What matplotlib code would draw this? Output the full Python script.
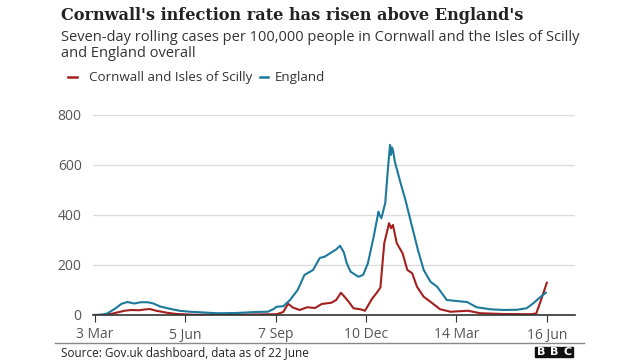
import pandas as pd
import matplotlib
matplotlib.use("Agg")
import matplotlib.pyplot as plt
from matplotlib.patches import Rectangle

# England: seven-day rolling rate per 100,000
eng_dates = ["2020-03-03", "2020-03-10", "2020-03-16", "2020-03-24", "2020-03-31", "2020-04-06",
             "2020-04-13", "2020-04-20", "2020-04-27", "2020-05-03", "2020-05-10", "2020-05-20",
             "2020-05-30", "2020-06-10", "2020-06-20", "2020-07-08", "2020-07-28", "2020-08-18",
             "2020-08-30", "2020-09-05", "2020-09-08", "2020-09-15", "2020-09-22", "2020-09-30",
             "2020-10-07", "2020-10-16", "2020-10-23", "2020-10-28", "2020-11-04", "2020-11-09",
             "2020-11-13", "2020-11-17", "2020-11-20", "2020-11-24", "2020-12-02", "2020-12-07",
             "2020-12-12", "2020-12-18", "2020-12-23", "2020-12-24", "2020-12-26", "2020-12-30",
             "2021-01-02", "2021-01-04", "2021-01-05", "2021-01-06", "2021-01-07", "2021-01-09",
             "2021-01-15", "2021-01-20", "2021-01-26", "2021-02-02", "2021-02-08", "2021-02-15",
             "2021-02-22", "2021-03-04", "2021-03-14", "2021-03-25", "2021-04-04", "2021-04-18",
             "2021-05-02", "2021-05-16", "2021-05-26", "2021-06-02", "2021-06-09", "2021-06-15"]
eng_values = [0, 1, 6, 25, 45, 52, 46, 51, 51, 46, 34, 25,
              17, 13, 11, 7, 8, 12, 13, 24, 33, 35, 60, 100,
              160, 180, 228, 233, 250, 262, 277, 250, 207, 173, 153, 160,
              207, 313, 413, 400, 387, 447, 593, 680, 640, 670, 660, 613,
              527, 460, 367, 260, 180, 133, 113, 60, 56, 52, 31, 23,
              20, 21, 27, 47, 71, 89]

# Cornwall and Isles of Scilly
cornwall_dates = ["2020-03-03", "2020-03-15", "2020-03-22", "2020-04-03", "2020-04-10", "2020-04-18",
                  "2020-04-24", "2020-04-29", "2020-05-06", "2020-05-17", "2020-05-27", "2020-06-15",
                  "2020-07-15", "2020-08-15", "2020-09-08", "2020-09-15", "2020-09-20", "2020-09-25",
                  "2020-10-02", "2020-10-10", "2020-10-18", "2020-10-25", "2020-11-04", "2020-11-09",
                  "2020-11-14", "2020-11-19", "2020-11-22", "2020-11-27", "2020-12-04", "2020-12-09",
                  "2020-12-16", "2020-12-22", "2020-12-25", "2020-12-29", "2021-01-03", "2021-01-05",
                  "2021-01-07", "2021-01-11", "2021-01-17", "2021-01-22", "2021-01-27", "2021-02-01",
                  "2021-02-08", "2021-02-15", "2021-02-25", "2021-03-08", "2021-03-26", "2021-04-08",
                  "2021-05-02", "2021-05-30", "2021-06-05", "2021-06-10", "2021-06-16"]
cornwall_values = [0, 1, 6, 17, 20, 19, 22, 24, 17, 9, 4, 1,
                   1, 2, 3, 12, 45, 30, 20, 31, 28, 44, 49, 60,
                   89, 67, 53, 27, 23, 17, 63, 93, 110, 287, 367, 347,
                   360, 287, 247, 180, 167, 113, 73, 53, 23, 13, 17, 7,
                   4, 3, 6, 60, 129]

tick_dates = ["2020-03-03", "2020-06-05", "2020-09-07", "2020-12-10", "2021-03-14", "2021-06-16"]
tick_labels = ["3 Mar", "5 Jun", "7 Sep", "10 Dec", "14 Mar", "16 Jun"]
y_ticks = [0, 200, 400, 600, 800]

red = "#a3201f"
blue = "#1d7a9b"
plt.rcParams["font.family"] = ["Open Sans", "DejaVu Sans"]

fig = plt.figure(figsize=(6.4, 3.6), dpi=100)
ax = fig.add_axes([0.145, 0.125, 0.753, 0.556])

ax.plot(pd.to_datetime(cornwall_dates), cornwall_values, color=red, linewidth=1.5)
ax.plot(pd.to_datetime(eng_dates), eng_values, color=blue, linewidth=1.5)

ax.set_ylim(0, 800)
ax.set_xlim(pd.Timestamp("2020-03-01"), pd.Timestamp("2021-07-15"))
ax.set_yticks(y_ticks)
ax.set_xticks(pd.to_datetime(tick_dates))
ax.set_xticklabels(tick_labels)
ax.grid(axis="y", color="#dddddd", linewidth=1)
ax.set_axisbelow(True)
for s in ["top", "right", "left"]:
    ax.spines[s].set_visible(False)
ax.spines["bottom"].set_color("#333333")
ax.spines["bottom"].set_linewidth(1.2)
ax.tick_params(axis="y", length=0, labelsize=10, labelcolor="#555555", pad=8)
ax.tick_params(axis="x", length=5, color="#333333", labelsize=10, labelcolor="#555555", pad=4)

# titles
fig.text(0.096, 0.956, "Cornwall's infection rate has risen above England's",
         fontsize=11.6, fontweight="bold", family=["DejaVu Serif"], color="#222222", va="center")
fig.text(0.096, 0.874, "Seven-day rolling cases per 100,000 people in Cornwall and the Isles of Scilly\nand England overall",
         fontsize=10.5, color="#333333", va="center", linespacing=1.05)

# legend
fig.lines.append(plt.Line2D([0.106, 0.12], [0.786, 0.786], color=red, linewidth=1.8, transform=fig.transFigure))
fig.text(0.139, 0.786, "Cornwall and Isles of Scilly", fontsize=9.65, color="#333333", va="center")
fig.lines.append(plt.Line2D([0.406, 0.419], [0.786, 0.786], color=blue, linewidth=1.8, transform=fig.transFigure))
fig.text(0.43, 0.786, "England", fontsize=9.65, color="#333333", va="center")

# footer
fig.lines.append(plt.Line2D([0.086, 0.912], [0.046, 0.046], color="#888888", linewidth=1, transform=fig.transFigure))
fig.text(0.096, 0.022, "Source: Gov.uk dashboard, data as of 22 June", fontsize=8.5, color="#222222", va="center")
for i, letter in enumerate("BBC"):
    x0 = 535 / 640 + i * 13.2 / 640
    fig.patches.append(Rectangle((x0, 3 / 360), 11.5 / 640, 10.5 / 360, color="#111111", transform=fig.transFigure))
    fig.text(x0 + 5.75 / 640, 8.3 / 360, letter, fontsize=8, fontweight="bold", color="white",
             ha="center", va="center", family=["DejaVu Sans"])

fig.savefig("out.png", dpi=100, facecolor="white")
